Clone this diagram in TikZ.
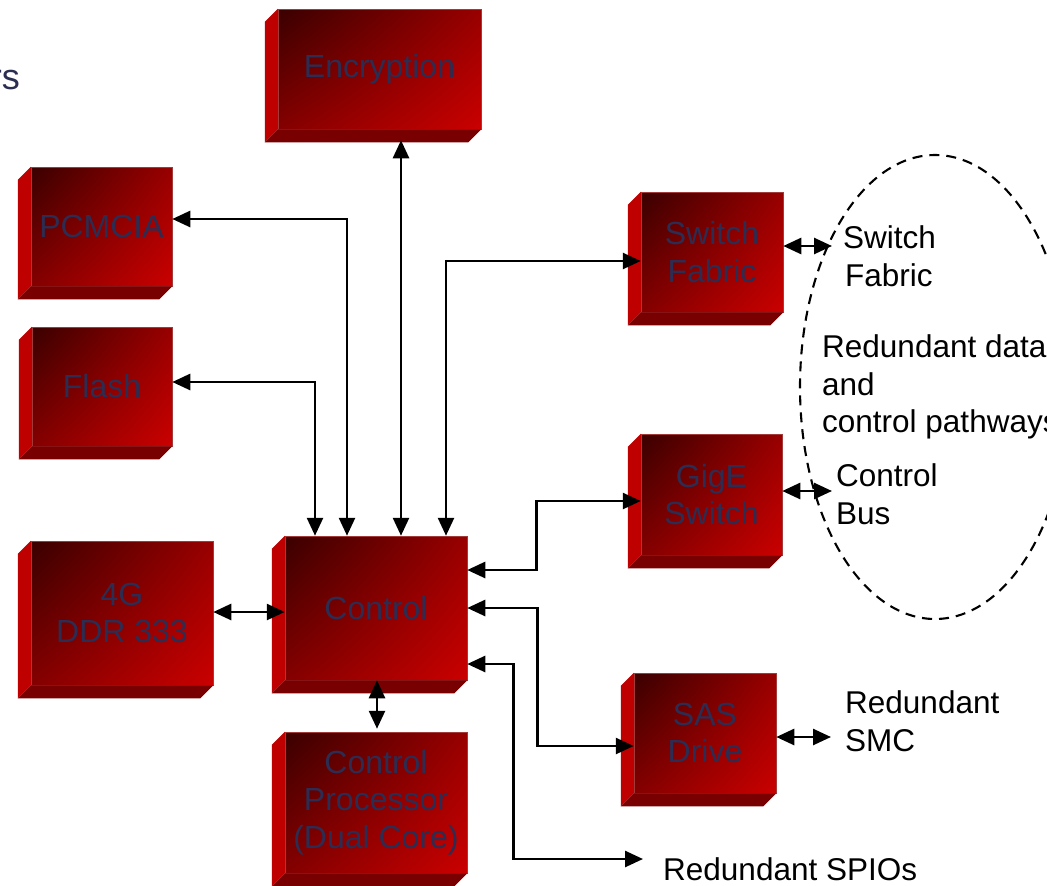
\documentclass[tikz,border=0pt]{standalone}
\usepackage{fontspec}
\setmainfont{Liberation Sans}
\usetikzlibrary{arrows.meta,shapes.geometric,shadings}

\definecolor{faceUL}{HTML}{3A0000}
\definecolor{faceUR}{HTML}{980000}
\definecolor{faceLL}{HTML}{840000}
\definecolor{faceLR}{HTML}{CA0000}
\definecolor{sideRed}{HTML}{BE0000}
\definecolor{baseRed}{HTML}{780000}
\definecolor{rimRed}{HTML}{A33A3A}
\definecolor{inkNavy}{HTML}{2B2D52}

\newcommand\blockfont{\fontsize{32}{37.5}\selectfont}
\newcommand\notefont{\fontsize{31.5}{37.5}\selectfont}

\tikzset{
  blockface/.style={shade, upper left=faceUL, upper right=faceUR,
    lower left=faceLL, lower right=faceLR, draw=rimRed, line width=0.5pt,
    inner sep=0pt, font=\blockfont, text=inkNavy, align=center},
  sideface/.style={fill=sideRed},
  baseface/.style={fill=baseRed},
  link/.style={line width=2.6pt,
    {Triangle[length=18pt,width=16pt]}-{Triangle[length=18pt,width=16pt]}},
  note/.style={font=\notefont, align=left, inner sep=0pt, anchor=west},
}

% bevelled block: name, front face left/top/right/bottom, label
\newcommand\redblock[6]{%
  \node[blockface, minimum width={(#4-#2)*1pt}, minimum height={(#5-#3)*1pt}]
    (#1) at ({(#2+#4)/2},{(#3+#5)/2}) {#6};
  \fill[sideface] ([xshift=-13pt,yshift=-13pt]#1.north west) -- (#1.north west)
    -- (#1.south west) -- ([xshift=-13pt,yshift=-13pt]#1.south west) -- cycle;
  \fill[baseface] ([xshift=-13pt,yshift=-13pt]#1.south west) -- (#1.south west)
    -- (#1.south east) -- ([xshift=-13pt,yshift=-13pt]#1.south east) -- cycle;
}

\begin{document}
\begin{tikzpicture}[x=1pt,y=-1pt]
\useasboundingbox (0,0) rectangle (1047,886);
\clip (0,0) rectangle (1047,886);

% text running in from the left margin
\node[font=\fontsize{36}{40}\selectfont, text=inkNavy, inner sep=0pt, anchor=base east] (rs) at (20,89) {rs};
\node[font=\fontsize{36}{40}\selectfont, text=inkNavy, inner sep=0pt, anchor=base east] (sfrag) at (1.5,496) {s};

% redundant pathways
\node[draw, dash pattern=on 10pt off 7pt, line width=2.1pt,
  ellipse, minimum width=270pt, minimum height=464pt, inner sep=0pt] (pathways) at (935,387) {};

% blocks
\redblock{enc}{278}{9}{481}{129}{Encryption}
\redblock{pc}{31}{167}{172}{286}{PCMCIA}
\redblock{flash}{32}{327}{172}{446}{Flash}
\redblock{ddr}{31}{541}{213}{685}{4G\\DDR 333}
\redblock{ctrl}{285}{536}{467}{680}{Control}
\redblock{cp}{285}{732}{467}{873}{Control\\Processor\\(Dual Core)}
\redblock{sf}{641}{192}{783}{312}{Switch\\Fabric}
\redblock{gige}{641}{434}{782}{555}{GigE\\Switch}
\redblock{sas}{634}{673}{776}{793}{SAS\\Drive}

% labels
\node[note] (sflab) at (843,256) {Switch\\\hspace*{2pt}Fabric};
\node[note] (redlab) at (822,387) {Redundant data\\and\\control pathways};
\node[note] (buslab) at (836,494) {Control\\Bus};
\node[note] (smclab) at (845,721) {Redundant\\SMC};
\node[note] (spiolab) at (663,869) {Redundant SPIOs};

\coordinate (sfend) at (832,246);
\coordinate (busend) at (832,491);
\coordinate (smcend) at (831,737);
\coordinate (spioend) at (643,859);

% connectors
\draw[link] ([yshift=7.5pt]pc.east) -| ([xshift=-29pt]ctrl.north);
\draw[link] ([yshift=4.5pt]flash.east) -| ([xshift=-61pt]ctrl.north);
\draw[link] ([xshift=21.5pt,yshift=-11pt]enc.south) -- ([xshift=25pt]ctrl.north);
\draw[link] ([xshift=70pt]ctrl.north) |- ([yshift=-9pt]sf.west);
\draw[link] ([yshift=38pt]ctrl.east) -- ++(69,0) |- ([yshift=-6.5pt]gige.west);
\draw[link] (ctrl.east) -- ++(70,0) |- ([yshift=-13pt]sas.west);
\draw[link] ([yshift=-56pt]ctrl.east) -- ++(46,0) |- (spioend);
\draw[link] ([yshift=1pt]ddr.east) -- ([yshift=-4pt]ctrl.west);
\draw[link] ([xshift=1pt]ctrl.south) -- ([xshift=1pt,yshift=3pt]cp.north);
\draw[link] ([yshift=6pt]sf.east) -- (sfend);
\draw[link] ([yshift=3.5pt]gige.east) -- (busend);
\draw[link] ([yshift=-4pt]sas.east) -- (smcend);
\end{tikzpicture}
\end{document}
